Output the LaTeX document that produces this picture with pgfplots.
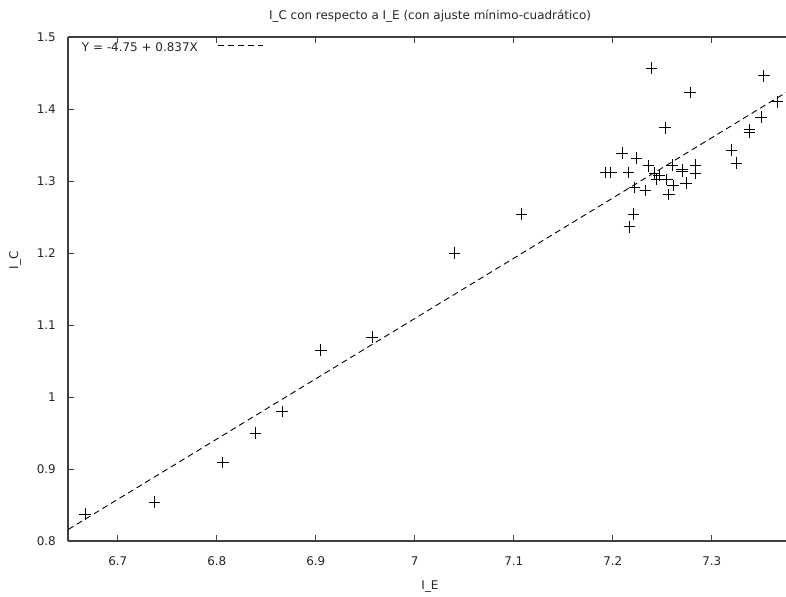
\documentclass[border=0pt]{standalone}
\usepackage{fontspec}
\setmainfont{DejaVu Sans}
\usepackage{pgfplots}
\pgfplotsset{compat=1.18}

% I_E, I_C pairs
\pgfplotstableread{
x y
6.667 0.8375
6.737 0.854
6.806 0.909
6.839 0.950
6.866 0.980
6.905 1.065
6.957 1.083
7.040 1.200
7.108 1.254
7.193 1.312
7.198 1.312
7.2095 1.339
7.216 1.312
7.217 1.2365
7.221 1.254
7.222 1.291
7.224 1.332
7.233 1.287
7.236 1.321
7.239 1.457
7.242 1.311
7.244 1.302
7.247 1.308
7.253 1.374
7.2545 1.302
7.2566 1.281
7.260 1.322
7.261 1.294
7.270 1.316
7.270 1.313
7.274 1.297
7.278 1.423
7.2835 1.322
7.2835 1.311
7.320 1.343
7.325 1.325
7.338 1.371
7.338 1.368
7.350 1.389
7.3526 1.446
7.366 1.410
}\datos

\newcommand\fnt{\fontsize{12}{14}\selectfont}

\begin{document}
\begin{tikzpicture}
\useasboundingbox (-68.3bp,-56bp) rectangle (717.7bp,541bp);
\begin{axis}[
    at={(0,0)}, anchor=south west,
    scale only axis,
    width=717.7bp, height=504bp,
    xmin=6.65, xmax=7.375,
    ymin=0.8, ymax=1.5,
    xtick={6.7,6.8,6.9,7,7.1,7.2,7.3},
    ytick={0.8,0.9,1,1.1,1.2,1.3,1.4,1.5},
    axis x line=box, axis y line=left,
    xtick pos=both, ytick pos=left,
    axis line style={-, draw=black!75, line width=1.6bp},
    tick align=inside,
    major tick length=6bp,
    tick style={draw=black!75, line width=0.8bp},
    /pgf/number format/assume math mode=true,
    ticklabel style={font=\fnt, text=black!85},
    xticklabel style={yshift=-12bp},
    yticklabel style={xshift=-9bp},
    title={I\_C con respecto a I\_E (con ajuste mínimo-cuadrático)},
    title style={font=\fnt, text=black!85, at={(axis description cs:0.504,1.0437)}, anchor=center, yshift=-7bp},
    xlabel={I\_E},
    xlabel style={font=\fnt, text=black!85, at={(axis description cs:0.504,-0.0913)}, anchor=center},
    ylabel={I\_C},
    ylabel style={font=\fnt, text=black!85, at={(axis description cs:-0.0743,0.557)}, anchor=center},
    legend plot pos=right,
    legend cell align=left,
    legend image code/.code={\draw[#1] (0bp,2bp) -- (45bp,2bp);},
    legend style={at={(axis description cs:0.016,0.994)}, anchor=north west,
        draw=none, fill=none, inner sep=0pt, font=\fnt, text=black!85,
        /tikz/every odd column/.append style={column sep=18bp}},
]
\addplot[only marks, mark=+, mark size=5.8bp, mark options={line width=0.8bp, black}, forget plot]
    table[x=x, y=y] {\datos};

% least-squares line Y = -4.75 + 0.837X at the axis ends
\addplot[black, line width=0.9bp, dash pattern=on 6bp off 4bp]
    coordinates {(6.65,0.81605) (7.375,1.422875)};
\addlegendentry{Y = -4.75 + 0.837X}
\end{axis}
\end{tikzpicture}
\end{document}
